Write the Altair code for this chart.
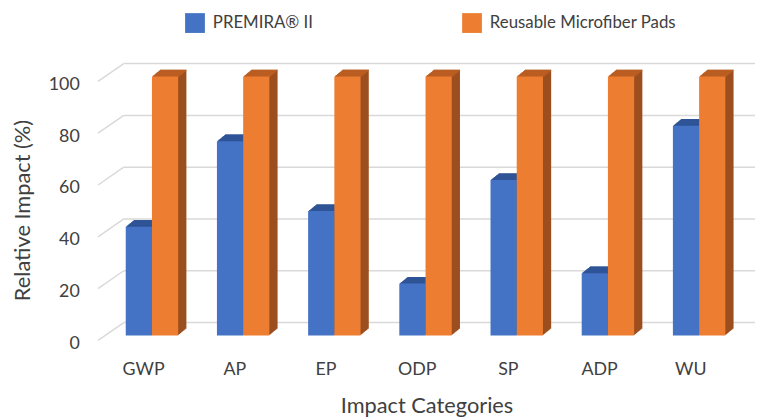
import altair as alt
import pandas as pd

categories = ["GWP", "AP", "EP", "ODP", "SP", "ADP", "WU"]
premira = [42, 75, 48, 20, 60, 24, 81]
reusable = [100, 100, 100, 100, 100, 100, 100]
series_names = ["PREMIRA® II", "Reusable Microfiber Pads"]
y_ticks = [0, 20, 40, 60, 80, 100]

front_colors = ["#4472C4", "#ED7D31"]
top_colors = ["#2F5597", "#BC5E22"]
side_colors = ["#2B4E8C", "#9C4F1F"]

rows = []
for i, c in enumerate(categories):
    rows.append({"cat": c, "idx": i, "series": series_names[0], "s": 0, "value": premira[i]})
    rows.append({"cat": c, "idx": i, "series": series_names[1], "s": 1, "value": reusable[i]})
df = pd.DataFrame(rows)
grid_df = pd.DataFrame({"v": y_ticks})

FONT = "Lato"
TXT = "#404040"
BAR_W = 0.2875
DX, DY, N = 8.3, 6.7, 9

xscale = alt.Scale(domain=[0, 7], range=[27, 27 + 7 * 92.17])
yscale = alt.Scale(domain=[0, 100], range=[276.7, 15])

label_js = "[" + ",".join("'%s'" % c for c in categories) + "]"

x_axis = alt.Axis(
    title="Impact Categories", values=[i + 0.19 for i in range(len(categories))],
    labelExpr=label_js + "[floor(datum.value)]",
    domain=False, ticks=False, grid=False, labelPadding=20,
    labelFontSize=18, labelFont=FONT, labelColor=TXT,
    titleFontSize=22, titleFont=FONT, titleFontWeight="normal", titleColor=TXT,
    titlePadding=18, titleX=331,
)
y_axis = alt.Axis(
    title="Relative Impact (%)", values=y_ticks, domain=False, ticks=False, grid=False,
    labelPadding=20, labelOffset=8, labelFontSize=18, labelFont=FONT, labelColor=TXT,
    titleFontSize=22, titleFont=FONT, titleFontWeight="normal", titleColor=TXT,
    titlePadding=14, titleY=150,
)

base = alt.Chart(df).transform_calculate(
    x0="datum.idx + datum.s * %f" % BAR_W,
    x1="datum.idx + datum.s * %f + %f" % (BAR_W, BAR_W),
    zero="0",
)

def fill_cond(colors):
    return alt.condition("datum.s == 0", alt.value(colors[0]), alt.value(colors[1]))

layers = []

# back wall gridlines
layers.append(
    alt.Chart(grid_df).mark_rule(color="#d9d9d9", strokeWidth=1.5, yOffset=-13).encode(
        x=alt.value(25), x2=alt.value(663),
        y=alt.Y("v:Q", scale=yscale, axis=y_axis),
    )
)
# left wall diagonal gridlines
layers.append(
    alt.Chart(grid_df).mark_rule(color="#d9d9d9", strokeWidth=1.5, yOffset=5, y2Offset=-13).encode(
        x=alt.value(-1), x2=alt.value(25),
        y=alt.Y("v:Q", scale=yscale, axis=y_axis),
        y2="v:Q",
    )
)

# extrusion (side faces)
for i in range(N, 0, -1):
    ox, oy = i * DX / N, -i * DY / N
    layers.append(
        base.mark_rect(xOffset=ox, x2Offset=ox, yOffset=oy, y2Offset=oy).encode(
            x=alt.X("x0:Q", scale=xscale, axis=x_axis),
            x2="x1:Q",
            y=alt.Y("value:Q", scale=yscale, axis=y_axis),
            y2="zero:Q",
            fill=fill_cond(side_colors),
        )
    )
# top faces
for i in range(N, 0, -1):
    ox = i * DX / N
    layers.append(
        base.mark_rect(xOffset=ox, x2Offset=ox, yOffset=-i * DY / N, y2Offset=-(i - 1) * DY / N + 0.4).encode(
            x=alt.X("x0:Q", scale=xscale, axis=x_axis),
            x2="x1:Q",
            y=alt.Y("value:Q", scale=yscale, axis=y_axis),
            y2="value:Q",
            fill=fill_cond(top_colors),
        )
    )

# front faces with legend
front = base.mark_rect().encode(
    x=alt.X("x0:Q", scale=xscale, axis=x_axis),
    x2="x1:Q",
    y=alt.Y("value:Q", scale=yscale, axis=y_axis),
    y2="zero:Q",
    fill=alt.Fill(
        "series:N", scale=alt.Scale(domain=series_names, range=front_colors),
        legend=alt.Legend(
            title=None, orient="none", legendX=87, legendY=-49, direction="horizontal",
            symbolType="square", symbolSize=400, symbolStrokeWidth=0, labelFontSize=17,
            labelFont=FONT, labelColor=TXT, columnPadding=150, labelOffset=8, labelLimit=400,
        ),
    ),
)
layers.append(front)

chart = alt.layer(*layers).properties(
    width=663, height=282,
    autosize=alt.AutoSizeParams(type="none"),
    padding={"left": 92, "top": 52, "right": 0, "bottom": 77},
    background="white",
).configure_view(stroke=None)

chart.save("out.html", embed_options={"renderer": "svg", "actions": False})
